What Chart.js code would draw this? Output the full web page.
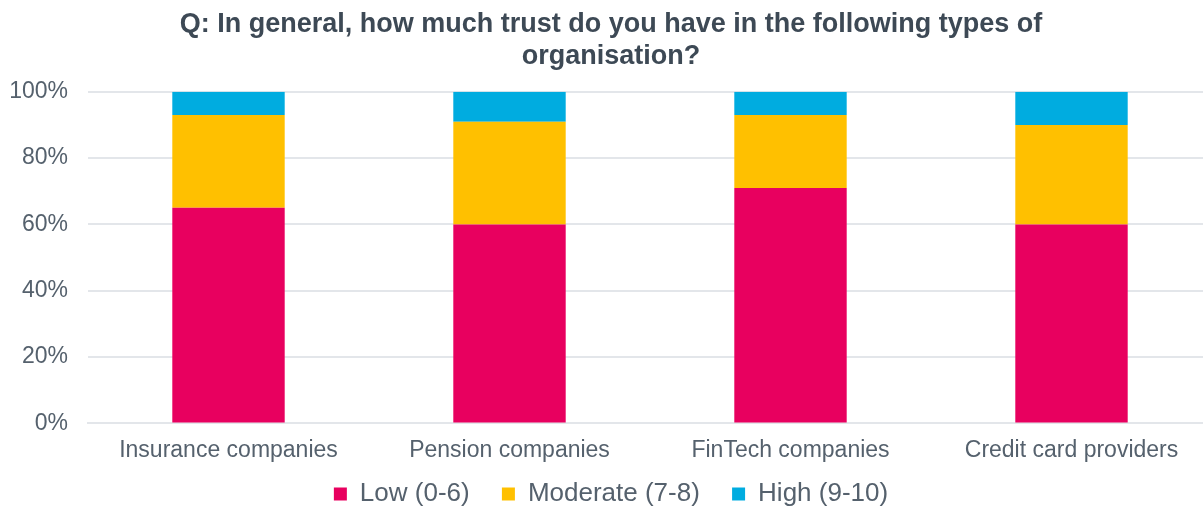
<!DOCTYPE html>
<html lang="en">
<head>
    <meta charset="UTF-8">
    <title>Trust in organisations</title>
    <script src="https://cdn.jsdelivr.net/npm/chart.js"></script>
    <style>
        html, body { margin: 0; padding: 0; background: #fff; overflow: hidden; }
        .wrap { width: 1212px; height: 508px; }
    </style>
</head>
<body>
    <div class="wrap"><canvas id="trustChart" width="1212" height="508"></canvas></div>

    <script>
        // Survey results, share of respondents per trust band (%)
        const organisations = ['Insurance companies', 'Pension companies', 'FinTech companies', 'Credit card providers'];
        const lowTrust = [65, 60, 71, 60];
        const moderateTrust = [28, 31, 22, 30];
        const highTrust = [7, 9, 7, 10];
        const yTicks = [0, 20, 40, 60, 80, 100];

        const textColor = '#55616d';
        const font = 'Arial, "Liberation Sans", sans-serif';

        new Chart(document.getElementById('trustChart'), {
            type: 'bar',
            data: {
                labels: organisations,
                datasets: [
                    { label: 'Low (0-6)', data: lowTrust, backgroundColor: '#E8005F' },
                    { label: 'Moderate (7-8)', data: moderateTrust, backgroundColor: '#FFC000' },
                    { label: 'High (9-10)', data: highTrust, backgroundColor: '#00ACE0' }
                ]
            },
            options: {
                responsive: false,
                animation: false,
                layout: { padding: { left: 10, right: 0, top: 4, bottom: -9 } },
                datasets: { bar: { categoryPercentage: 1, barPercentage: 0.4 } },
                plugins: {
                    title: {
                        display: true,
                        text: ['Q: In general, how much trust do you have in the following types of', 'organisation?'],
                        color: '#3d4955',
                        font: { family: font, size: 27, weight: 'bold', lineHeight: 1.2 },
                        padding: { top: 4, bottom: 19 }
                    },
                    legend: {
                        position: 'bottom',
                        labels: {
                            color: textColor,
                            font: { family: font, size: 26 },
                            boxWidth: 13,
                            boxHeight: 13,
                            padding: 12,
                            // pad item text on the right so the entries sit wider apart
                            generateLabels: chart => {
                                const items = Chart.defaults.plugins.legend.labels.generateLabels(chart);
                                items.forEach((item, i) => {
                                    if (i < items.length - 1) item.text += '\u2002 ';
                                });
                                return items;
                            }
                        }
                    },
                    tooltip: { enabled: false }
                },
                scales: {
                    x: {
                        stacked: true,
                        grid: { display: false },
                        border: { color: '#e3e6ea', width: 2 },
                        ticks: { color: textColor, font: { family: font, size: 23 }, padding: 5 }
                    },
                    y: {
                        stacked: true,
                        min: 0,
                        max: 100,
                        afterBuildTicks: axis => { axis.ticks = yTicks.map(v => ({ value: v })); },
                        afterFit: axis => { axis.width = 78; },
                        grid: { color: '#e3e6ea', lineWidth: 2, drawTicks: false },
                        border: { display: false },
                        ticks: {
                            color: textColor,
                            font: { family: font, size: 23 },
                            padding: 20,
                            callback: v => v + '%'
                        }
                    }
                }
            }
        });
    </script>
</body>
</html>
